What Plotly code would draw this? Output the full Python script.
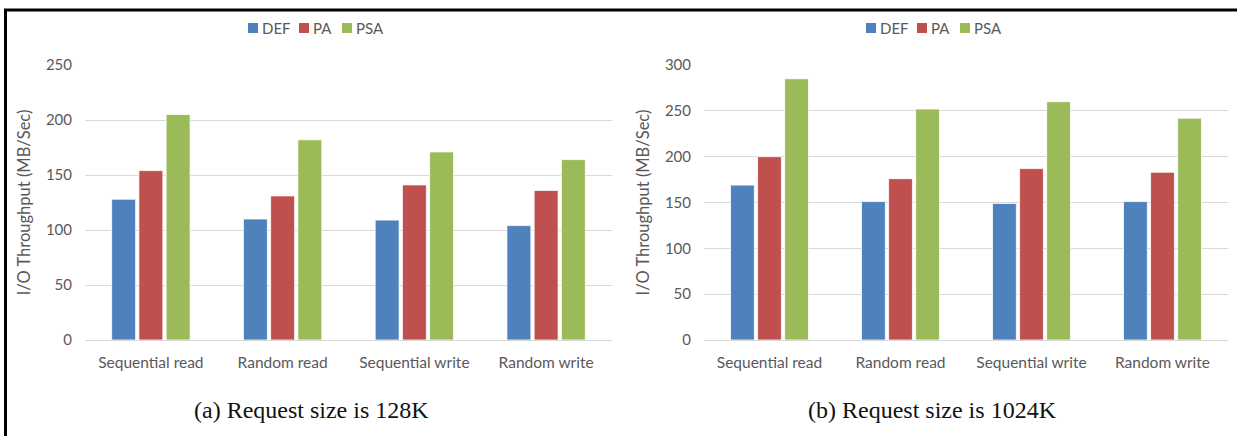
import plotly.graph_objects as go

# Workload categories and measured throughput (MB/Sec)
categories = ["Sequential read", "Random read", "Sequential write", "Random write"]
series_names = ["DEF", "PA", "PSA"]

# (a) request size 128K
def_128k = [128, 110, 109, 104]
pa_128k = [154, 131, 141, 136]
psa_128k = [205, 182, 171, 164]

# (b) request size 1024K
def_1024k = [169, 151, 149, 151]
pa_1024k = [200, 176, 187, 183]
psa_1024k = [285, 252, 260, 242]

y_ticks_128k = [0, 50, 100, 150, 200, 250]
y_ticks_1024k = [0, 50, 100, 150, 200, 250, 300]

colors = ["#4F81BD", "#C0504D", "#9BBB59"]
W, H = 1237, 436

def px_x(x):
    return x / W

def px_y(y):
    return 1 - y / H

fig = go.Figure()

panels = [
    ([def_128k, pa_128k, psa_128k], "x", "y"),
    ([def_1024k, pa_1024k, psa_1024k], "x2", "y2"),
]
for values, xa, ya in panels:
    for name, vals, col in zip(series_names, values, colors):
        fig.add_trace(go.Bar(
            x=categories, y=vals, name=name, xaxis=xa, yaxis=ya, showlegend=False,
            marker=dict(color=col, line=dict(color="white", width=0.8)),
        ))

grey = "#595959"
font_family = "Lato, Open Sans, sans-serif"
ytick_font = dict(family=font_family, size=15, color=grey)
xtick_font = dict(family=font_family, size=15.5, color=grey)
key_font = dict(family=font_family, size=15, color=grey)
title_font = dict(family=font_family, size=16.5, color=grey)

y_common = dict(
    showgrid=True, gridcolor="#D9D9D9", gridwidth=1,
    zeroline=False, showline=False, ticks="", tickfont=ytick_font,
    ticklabelstandoff=12, automargin=False, fixedrange=True,
)
x_common = dict(
    showgrid=False, showline=True, linecolor="#D9D9D9", linewidth=1,
    ticks="", tickfont=xtick_font, ticklabelstandoff=8, automargin=False, fixedrange=True,
)

y_bottom, y_top = px_y(340), px_y(65)

fig.update_layout(
    width=W, height=H,
    margin=dict(l=0, r=0, t=0, b=0, autoexpand=False),
    paper_bgcolor="white", plot_bgcolor="white",
    barmode="group", bargap=0.38, bargroupgap=0.12,
    showlegend=False,
    xaxis=dict(domain=[px_x(85), px_x(612)], anchor="y", **x_common),
    xaxis2=dict(domain=[px_x(704), px_x(1228)], anchor="y2", **x_common),
    yaxis=dict(domain=[y_bottom, y_top], anchor="x", range=[0, 250],
               tickvals=y_ticks_128k,
               title=dict(text="I/O Throughput (MB/Sec)", font=title_font, standoff=11),
               **y_common),
    yaxis2=dict(domain=[y_bottom, y_top], anchor="x2", range=[0, 300],
                tickvals=y_ticks_1024k,
                title=dict(text="I/O Throughput (MB/Sec)", font=title_font, standoff=11),
                **y_common),
)

# Series key above each panel: coloured square followed by the series name
legend_starts = [248, 866]
legend_offsets = [0, 51, 94]
for start in legend_starts:
    for name, col, off in zip(series_names, colors, legend_offsets):
        x0 = start + off
        fig.add_shape(type="rect", xref="paper", yref="paper",
                      x0=px_x(x0), x1=px_x(x0 + 10), y0=px_y(33), y1=px_y(23),
                      fillcolor=col, line=dict(width=0))
        fig.add_annotation(text=name, x=px_x(x0 + 12), y=px_y(28), xref="paper", yref="paper",
                           xanchor="left", yanchor="middle", showarrow=False, font=key_font)

caption_font = dict(family="Liberation Serif, Times New Roman, serif", size=24, color="#111111")
fig.add_annotation(text="(a) Request size is 128K", x=px_x(311), y=px_y(410),
                   xref="paper", yref="paper", xanchor="center", yanchor="middle",
                   showarrow=False, font=caption_font)
fig.add_annotation(text="(b) Request size is 1024K", x=px_x(932), y=px_y(410),
                   xref="paper", yref="paper", xanchor="center", yanchor="middle",
                   showarrow=False, font=caption_font)

# Outer frame: top and left edges
fig.add_shape(type="line", xref="paper", yref="paper", x0=px_x(4), x1=1, y0=px_y(10), y1=px_y(10),
              line=dict(color="black", width=3))
fig.add_shape(type="line", xref="paper", yref="paper", x0=px_x(5.5), x1=px_x(5.5), y0=0, y1=px_y(9),
              line=dict(color="black", width=3))

fig.write_html("out.html")
